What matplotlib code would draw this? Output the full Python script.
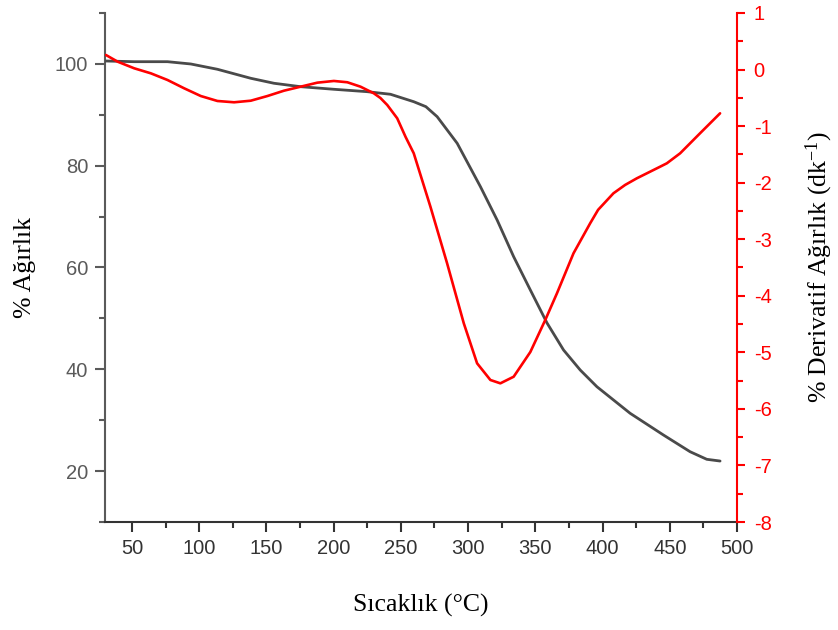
import matplotlib
matplotlib.use("Agg")
import matplotlib.pyplot as plt
from matplotlib.ticker import MultipleLocator

plt.rcParams['mathtext.fontset'] = 'custom'
plt.rcParams['mathtext.rm'] = 'Liberation Serif'
plt.rcParams['mathtext.it'] = 'Liberation Serif:italic'
plt.rcParams['axes.unicode_minus'] = False

# TGA weight curve (% weight vs temperature, °C)
temp_w = [30.0, 51.7, 76.5, 93.8, 113.6, 138.4, 155.7, 175.5, 200.2, 225.0,
          242.3, 259.6, 268.6, 277.0, 291.9, 309.2, 321.6, 333.9, 346.3, 358.7,
          371.0, 383.4, 395.8, 420.5, 445.3, 465.1, 477.5, 487.4]
weight = [100.57, 100.43, 100.43, 99.98, 98.94, 97.17, 96.19, 95.52, 95.01,
          94.54, 94.03, 92.57, 91.60, 89.63, 84.40, 75.87, 69.33, 62.12, 55.58,
          49.10, 43.79, 39.86, 36.58, 31.36, 27.09, 23.81, 22.32, 21.98]

# DTG derivative curve (% / min)
temp_d = [30.7, 39.4, 51.7, 64.1, 76.5, 88.8, 101.2, 113.6, 126.0, 138.4,
          150.8, 163.1, 175.5, 187.9, 200.2, 210.2, 220.0, 229.9, 234.8, 239.9,
          247.3, 253.5, 259.6, 272.0, 284.4, 296.8, 306.7, 316.6, 324.0, 333.9,
          346.3, 357.4, 366.1, 378.4, 390.8, 396.7, 408.1, 416.8, 425.5, 442.8,
          447.8, 457.7, 472.5, 487.4]
deriv = [0.257, 0.139, 0.022, -0.067, -0.185, -0.331, -0.468, -0.556, -0.579,
         -0.551, -0.468, -0.374, -0.303, -0.232, -0.202, -0.225, -0.303, -0.420,
         -0.503, -0.627, -0.862, -1.19, -1.481, -2.425, -3.426, -4.486, -5.194,
         -5.489, -5.548, -5.431, -4.994, -4.428, -3.956, -3.249, -2.718, -2.48,
         -2.188, -2.04, -1.923, -1.718, -1.658, -1.481, -1.127, -0.774]

x_ticks = [50, 100, 150, 200, 250, 300, 350, 400, 450, 500]
left_ticks = [20, 40, 60, 80, 100]
right_ticks = [1, 0, -1, -2, -3, -4, -5, -6, -7, -8]

grey = '#5a5a5a'
dark = '#333333'
line_grey = '#4a4a4a'
red = '#ff0000'
tick_font = 'Liberation Sans'
label_font = 'Liberation Serif'

fig = plt.figure(figsize=(8.38, 6.30), dpi=100)
ax = fig.add_axes([0.1253, 0.1714, 0.7542, 0.8080])
ax2 = ax.twinx()

ax.plot(temp_w, weight, color=line_grey, lw=2.0, solid_capstyle='round',
        solid_joinstyle='round', zorder=3)
ax2.plot(temp_d, deriv, color=red, lw=1.9, solid_capstyle='round',
         solid_joinstyle='round', zorder=3)

ax.set_xlim(30, 500)
ax.set_ylim(10, 110)
ax2.set_ylim(-8, 1)

ax.set_xticks(x_ticks)
ax.xaxis.set_minor_locator(MultipleLocator(25))
ax.set_yticks(left_ticks)
ax.yaxis.set_minor_locator(MultipleLocator(10))
ax2.set_yticks(right_ticks)
ax2.yaxis.set_minor_locator(MultipleLocator(0.5))

for a in (ax, ax2):
    a.spines['top'].set_visible(False)

ax.spines['left'].set_color(grey)
ax.spines['bottom'].set_color(dark)
ax.spines['left'].set_linewidth(1.5)
ax.spines['bottom'].set_linewidth(1.5)
ax.spines['right'].set_visible(False)
ax2.spines['left'].set_visible(False)
ax2.spines['bottom'].set_visible(False)
ax2.spines['right'].set_color(red)
ax2.spines['right'].set_linewidth(1.5)

ax.tick_params(axis='x', which='major', direction='out', length=7, width=1.5,
               color=dark, labelcolor=dark, labelsize=14.5, pad=5)
ax.tick_params(axis='x', which='minor', direction='out', length=4, width=1.5,
               color=dark)
ax.tick_params(axis='y', which='major', direction='out', length=7, width=1.5,
               color=grey, labelcolor=grey, labelsize=14.5, pad=5)
ax.tick_params(axis='y', which='minor', direction='out', length=4, width=1.5,
               color=grey)
ax2.tick_params(axis='y', which='major', direction='out', length=6, width=1.5,
                color=red, labelcolor=red, labelsize=14.5, pad=6)
ax2.tick_params(axis='y', which='minor', direction='out', length=4, width=1.5,
                color=red)

for lbl in ax.get_xticklabels() + ax.get_yticklabels() + ax2.get_yticklabels():
    lbl.set_fontfamily(tick_font)

ax.set_xlabel('Sıcaklık (°C)', fontfamily=label_font, fontsize=18.5, labelpad=26)
ax.set_ylabel('% Ağırlık', fontfamily=label_font, fontsize=18.5, labelpad=14)
ax2.set_ylabel('% Derivatif Ağırlık (dk$^{-1}$)', fontfamily=label_font,
               fontsize=18.5, labelpad=23, rotation=90)

fig.savefig('out.png', dpi=100, facecolor='white')
